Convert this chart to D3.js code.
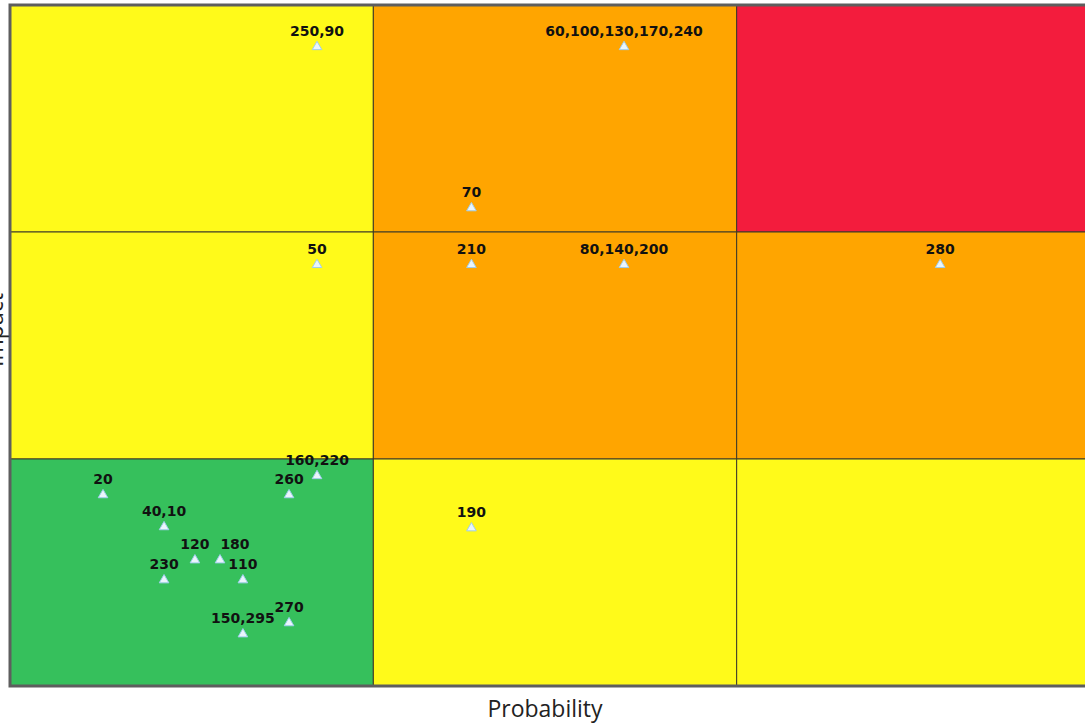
<!DOCTYPE html>
<html>
<head>
<meta charset="utf-8">
<script src="https://cdn.jsdelivr.net/npm/d3@7"></script>
<style>
  html, body { margin: 0; padding: 0; background: #fff; overflow: hidden; }
  svg { display: block; }
</style>
</head>
<body>
<svg id="viz"></svg>
<script>
const svg = d3.select("#viz");
const width = 1085;
const height = 724;
svg.attr("width", width).attr("height", height);

// risk zones, rows from top (high impact) to bottom, columns low -> high probability
const zoneColors = [
  ["#fffa1a", "#ffa500", "#f31c3d"],
  ["#fffa1a", "#ffa500", "#ffa500"],
  ["#36c05c", "#fffa1a", "#fffa1a"]
];

// risk ids plotted at each point
const riskLabels = [
  "250,90", "60,100,130,170,240", "70", "50", "210", "80,140,200", "280",
  "160,220", "20", "260", "40,10", "120", "180", "230", "110", "150,295", "270", "190"
];
const probability = [
  0.845, 1.69, 1.27, 0.845, 1.27, 1.69, 2.56,
  0.845, 0.256, 0.768, 0.424, 0.509, 0.578, 0.424, 0.641, 0.641, 0.768, 1.27
];
const impact = [
  2.82, 2.82, 2.11, 1.86, 1.86, 1.86, 1.86,
  0.93, 0.846, 0.846, 0.705, 0.559, 0.559, 0.471, 0.471, 0.233, 0.282, 0.70
];

const points = riskLabels.map((label, i) => ({ label, p: probability[i], imp: impact[i] }));

const x = d3.scaleLinear().domain([0, 3]).range([10, 1100]);
const y = d3.scaleLinear().domain([0, 3]).range([686, 5]);

// cells
const cells = [];
zoneColors.forEach((row, r) => {
  row.forEach((color, c) => cells.push({ r, c, color }));
});

svg.selectAll("rect.cell")
  .data(cells)
  .enter().append("rect")
  .attr("class", "cell")
  .attr("x", d => x(d.c))
  .attr("y", d => y(3 - d.r))
  .attr("width", d => x(d.c + 1) - x(d.c))
  .attr("height", d => y(2 - d.r) - y(3 - d.r))
  .attr("fill", d => d.color)
  .attr("stroke", "#3d3a28")
  .attr("stroke-width", 1);

// outer frame
svg.append("rect")
  .attr("x", x(0))
  .attr("y", y(3))
  .attr("width", x(3) - x(0))
  .attr("height", y(0) - y(3))
  .attr("fill", "none")
  .attr("stroke", "#5e5e5e")
  .attr("stroke-width", 3);

// markers
svg.selectAll("path.marker")
  .data(points)
  .enter().append("path")
  .attr("class", "marker")
  .attr("d", d3.symbol().type(d3.symbolTriangle).size(40))
  .attr("transform", d => `translate(${x(d.p)},${y(d.imp) + 1})`)
  .attr("fill", "#eaf5fc")
  .attr("stroke", "#9fcdec")
  .attr("stroke-width", 1);

// labels (the "180" label is nudged right so it does not hit "120")
svg.selectAll("text.label")
  .data(points)
  .enter().append("text")
  .attr("class", "label")
  .attr("x", d => x(d.p) + (d.label === "180" ? 15 : 0))
  .attr("y", d => y(d.imp) - 10)
  .attr("text-anchor", "middle")
  .style("font-family", "DejaVu Sans, Verdana, sans-serif")
  .style("font-weight", "bold")
  .style("font-size", "14px")
  .attr("fill", "#111")
  .text(d => d.label);

// axis titles
svg.append("text")
  .attr("x", 545)
  .attr("y", 717)
  .attr("text-anchor", "middle")
  .style("font-family", "Open Sans, sans-serif")
  .style("font-size", "23px")
  .attr("fill", "#222")
  .text("Probability");

svg.append("text")
  .attr("transform", "translate(3,330) rotate(-90)")
  .attr("text-anchor", "middle")
  .style("font-family", "Open Sans, sans-serif")
  .style("font-size", "23px")
  .attr("fill", "#222")
  .text("Impact");
</script>
</body>
</html>
